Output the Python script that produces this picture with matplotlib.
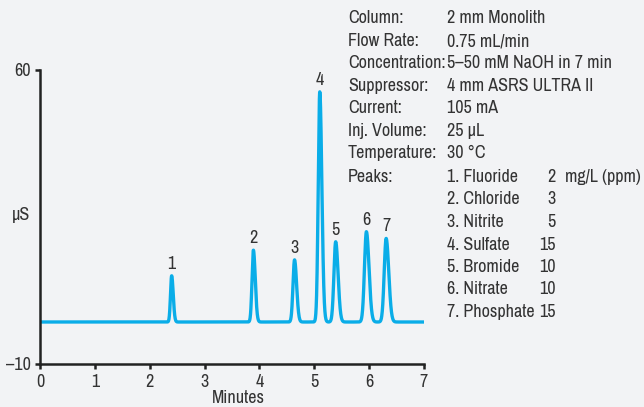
import numpy as np
import matplotlib.pyplot as plt

# peak data
peak_ids = ['1', '2', '3', '4', '5', '6', '7']
peak_times = [2.40, 3.89, 4.64, 5.10, 5.39, 5.95, 6.31]   # min
peak_heights = [11.0, 17.1, 14.8, 54.8, 19.1, 21.5, 19.9]  # uS
peak_widths = [0.021, 0.025, 0.028, 0.028, 0.032, 0.035, 0.035]
baseline = 0.0

info_labels = ['Column:', 'Flow Rate:', 'Concentration:', 'Suppressor:', 'Current:',
               'Inj. Volume:', 'Temperature:', 'Peaks:']
info_values = ['2 mm Monolith', '0.75 mL/min', '5–50 mM NaOH in 7 min', '4 mm ASRS ULTRA II',
               '105 mA', '25 µL', '30 °C']
peak_names = ['1. Fluoride', '2. Chloride', '3. Nitrite', '4. Sulfate', '5. Bromide',
              '6. Nitrate', '7. Phosphate']
peak_conc = ['2', '3', '5', '15', '10', '10', '15']

bg = '#f2f3f5'
txt = '#333333'
blue = '#0aade8'

plt.rcParams['font.family'] = ['Archivo Narrow', 'DejaVu Sans']
fs = 13

t = np.linspace(0, 7, 3000)
y = np.full_like(t, baseline)
for t0, h, w in zip(peak_times, peak_heights, peak_widths):
    # a bit of tailing on the right side
    s = np.where(t < t0, w, w * 1.35)
    y += h * np.exp(-0.5 * ((t - t0) / s) ** 2)

fig = plt.figure(figsize=(6.44, 4.07), dpi=100, facecolor=bg)
ax = fig.add_axes([40 / 644, 1 - 364 / 407, 384 / 644, 294 / 407])
ax.set_facecolor(bg)
ax.plot(t, y, color=blue, lw=2.4, solid_capstyle='butt')

for pid, t0, h in zip(peak_ids, peak_times, peak_heights):
    ax.annotate(pid, (t0, h), xytext=(0, 4), textcoords='offset pixels',
                ha='center', va='bottom', fontsize=fs, color=txt)

ax.set_xlim(0, 7)
ax.set_ylim(-10, 60)
ax.set_xticks(range(8))
ax.set_yticks([-10, 60])
ax.set_yticklabels(['–10', '60'])
for s in ['top', 'right']:
    ax.spines[s].set_visible(False)
for s in ['left', 'bottom']:
    ax.spines[s].set_linewidth(1.8)
    ax.spines[s].set_color('#222222')
ax.tick_params(length=3.5, width=1.8, color='#222222', labelsize=fs, labelcolor=txt)
ax.tick_params(axis='x', pad=4)
ax.tick_params(axis='y', pad=3)

fig.text(238 / 644, 1 - 398 / 407, 'Minutes', ha='center', va='center', fontsize=fs, color=txt)
fig.text(21 / 644, 1 - 215 / 407, 'µS', ha='center', va='center', fontsize=fs, color=txt)

line_y = [18, 41, 63, 86, 108, 131, 153, 177]
for lab, yy in zip(info_labels, line_y):
    fig.text(348 / 644, 1 - yy / 407, lab, ha='left', va='center', fontsize=fs, color=txt)
for val, yy in zip(info_values, line_y):
    fig.text(447 / 644, 1 - yy / 407, val, ha='left', va='center', fontsize=fs, color=txt)

peak_y = [177 + 22.5 * i for i in range(7)]
for name, conc, yy in zip(peak_names, peak_conc, peak_y):
    fig.text(447 / 644, 1 - yy / 407, name, ha='left', va='center', fontsize=fs, color=txt)
    fig.text(556 / 644, 1 - yy / 407, conc, ha='right', va='center', fontsize=fs, color=txt)
fig.text(565 / 644, 1 - 177 / 407, 'mg/L (ppm)', ha='left', va='center', fontsize=fs, color=txt)

fig.savefig('out.png', dpi=100, facecolor=bg)
